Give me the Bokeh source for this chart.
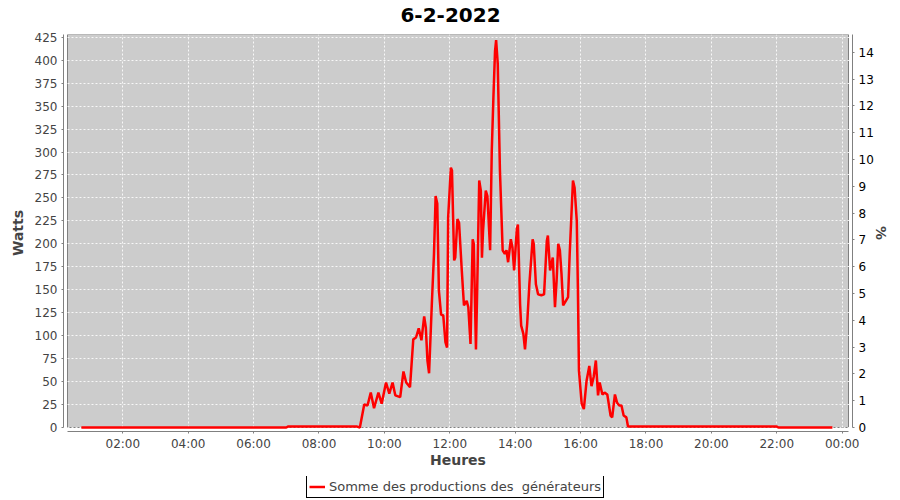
from bokeh.plotting import figure
from bokeh.layouts import column
from bokeh.models import (Range1d, LinearAxis, FixedTicker, BoxAnnotation,
                          Legend, LegendItem, Label)
from bokeh.embed import file_html
from bokeh.resources import INLINE

# ---------------- data ----------------
titre = "6-2-2022"
serie = "Somme des productions des  générateurs"

heures = ["00:44", "07:00", "07:03", "09:10", "09:15", "09:23", "09:29", "09:35",
          "09:41", "09:49", "09:55", "10:03", "10:09", "10:15", "10:20", "10:29",
          "10:35", "10:40", "10:47", "10:53", "10:58", "11:03", "11:08", "11:13",
          "11:16", "11:19", "11:22", "11:27", "11:31", "11:34", "11:37", "11:40",
          "11:44", "11:48", "11:52", "11:55", "11:57", "12:02", "12:04", "12:08",
          "12:10", "12:14", "12:17", "12:22", "12:26", "12:31", "12:34", "12:38",
          "12:42", "12:44", "12:48", "12:50", "12:54", "12:57", "12:59", "13:01",
          "13:06", "13:09", "13:14", "13:17", "13:20", "13:23", "13:25", "13:28",
          "13:32", "13:37", "13:41", "13:44", "13:47", "13:52", "13:55", "13:58",
          "14:03", "14:05", "14:09", "14:11", "14:15", "14:18", "14:22", "14:26",
          "14:32", "14:34", "14:38", "14:42", "14:48", "14:53", "14:58", "15:00",
          "15:04", "15:09", "15:13", "15:16", "15:19", "15:22", "15:25", "15:28",
          "15:33", "15:37", "15:40", "15:43", "15:46", "15:49", "15:53", "15:55",
          "15:57", "16:02", "16:06", "16:11", "16:16", "16:20", "16:24", "16:28",
          "16:32", "16:35", "16:40", "16:44", "16:49", "16:55", "16:58", "17:03",
          "17:07", "17:11", "17:15", "17:19", "17:24", "17:27", "22:00", "22:03",
          "23:42"]
watts = [0, 0, 1, 1, 0, 25, 24, 38,
         21, 38, 26, 49, 37, 49, 35, 33,
         61, 49, 44, 96, 98, 108, 95, 121,
         109, 73, 59, 134, 189, 252, 244, 149,
         123, 122, 93, 87, 229, 283, 280, 182,
         185, 227, 223, 171, 133, 138, 131, 91,
         205, 200, 85, 142, 269, 258, 185, 214,
         258, 252, 193, 301, 359, 410, 422, 396,
         280, 193, 189, 193, 180, 205, 196, 171,
         216, 221, 134, 111, 102, 85, 113, 156,
         205, 200, 156, 145, 144, 145, 203, 209,
         171, 185, 131, 160, 200, 193, 167, 133,
         138, 142, 189, 229, 269, 261, 225, 153,
         62, 26, 20, 51, 67, 45, 55, 73,
         35, 49, 36, 38, 36, 13, 11, 36,
         27, 24, 24, 13, 11, 1, 1, 0,
         0]

x_tick_labels = ["02:00", "04:00", "06:00", "08:00", "10:00", "12:00",
                 "14:00", "16:00", "18:00", "20:00", "22:00", "00:00"]
watts_ticks = list(range(0, 426, 25))
pct_ticks = list(range(0, 15))


def to_hours(s):
    h, m = s.split(":")
    return int(h) + int(m) / 60.0


x = [to_hours(s) for s in heures]
x_ticks = [2.0 * (i + 1) for i in range(len(x_tick_labels))]

# ---------------- ranges ----------------
X0, X1 = 0.309, 24.193      # plot-area extent, hours
W1 = 428.0                  # plot-area top, watts
P1 = 14.66                  # plot-area top, %
GAP = 4                     # px between plot area and axes
pad_x = GAP * (X1 - X0) / 781.0
pad_w = GAP * W1 / 393.0
pad_p = GAP * P1 / 393.0

FONT = "DejaVu Sans"
GREY_TXT = "#444444"
AXIS_COL = "#808080"
LEFT, RIGHT = 63, 48        # borders shared by the three stacked figures

# ---------------- title strip ----------------
TOP_H = 26
pt = figure(width=900, height=TOP_H, title=None, output_backend="svg",
            toolbar_location=None,
            x_range=Range1d(LEFT, 900 - RIGHT), y_range=Range1d(0, TOP_H),
            x_axis_location=None, y_axis_location=None,
            min_border_left=LEFT, min_border_right=RIGHT,
            min_border_top=0, min_border_bottom=0)
pt.xgrid.visible = False
pt.ygrid.visible = False
pt.outline_line_color = None
pt.add_layout(Label(x=450, y=12, text=titre, text_align="center",
                    text_baseline="alphabetic", text_font=FONT,
                    text_font_size="20px", text_font_style="bold",
                    text_color="black"))

# ---------------- main chart ----------------
p = figure(width=900, height=450, title=None, output_backend="svg",
           toolbar_location=None,
           x_range=Range1d(X0 - pad_x, X1 + pad_x),
           y_range=Range1d(-pad_w, W1),
           min_border_left=LEFT, min_border_right=RIGHT,
           min_border_top=8, min_border_bottom=45,
           background_fill_color="white", border_fill_color="white")
p.outline_line_color = None
p.extra_y_ranges = {"pct": Range1d(-pad_p, P1)}

area = BoxAnnotation(left=X0, right=X1, bottom=0, top=W1,
                     fill_color="#cccccc", fill_alpha=1.0,
                     line_color=AXIS_COL, line_alpha=1.0, line_width=1,
                     level="image")
p.add_layout(area)

p.xgrid.ticker = FixedTicker(ticks=x_ticks)
p.ygrid.ticker = FixedTicker(ticks=watts_ticks)
for g in (p.xgrid, p.ygrid):
    g.grid_line_color = "white"
    g.grid_line_alpha = 0.85
    g.grid_line_dash = "2 2"
    g.grid_line_width = 1

xa = p.xaxis[0]
xa.ticker = FixedTicker(ticks=x_ticks)
xa.major_label_overrides = {t: lab for t, lab in zip(x_ticks, x_tick_labels)}
xa.bounds = (X0, X1)
xa.axis_label = "Heures"

ya = p.yaxis[0]
ya.ticker = FixedTicker(ticks=watts_ticks)
ya.bounds = (0, W1)
ya.axis_label = "Watts"

ra = LinearAxis(y_range_name="pct", ticker=FixedTicker(ticks=pct_ticks),
                bounds=(0, P1), axis_label="%")
p.add_layout(ra, "right")

for ax in (xa, ya, ra):
    ax.axis_line_color = AXIS_COL
    ax.major_tick_line_color = AXIS_COL
    ax.major_tick_out = 2
    ax.major_tick_in = 0
    ax.minor_tick_out = 0
    ax.minor_tick_in = 0
    ax.major_label_text_font = FONT
    ax.major_label_text_font_size = "12px"
    ax.major_label_text_color = GREY_TXT
    ax.major_label_standoff = 4
    ax.axis_label_text_font = FONT
    ax.axis_label_text_font_size = "14px"
    ax.axis_label_text_font_style = "bold"
    ax.axis_label_text_color = GREY_TXT
ra.major_label_text_color = "black"
xa.major_label_standoff = 3
xa.axis_label_standoff = -2
ya.axis_label_standoff = 6
ra.axis_label_standoff = -4

line_style = dict(line_color="#ff0000", line_width=2.5)
r = p.line(x, watts, **line_style)

# ---------------- legend strip ----------------
pl = figure(width=900, height=24, title=None, output_backend="svg",
            toolbar_location=None,
            x_range=Range1d(-10, -9), y_range=Range1d(-10, -9),
            x_axis_location=None, y_axis_location=None,
            min_border_left=LEFT, min_border_right=RIGHT,
            min_border_top=0, min_border_bottom=0)
pl.xgrid.visible = False
pl.ygrid.visible = False
pl.outline_line_color = None
r_leg = pl.line(x=x[:1], y=watts[:1], **line_style)
legend = Legend(items=[LegendItem(label=serie, renderers=[r_leg])],
                location=(306 - LEFT, 2), orientation="horizontal",
                border_line_color="black", border_line_width=1, border_line_alpha=1,
                background_fill_color="white", background_fill_alpha=1,
                padding=2, spacing=0, margin=0,
                glyph_width=16, glyph_height=17, label_height=17,
                label_standoff=4,
                label_text_font=FONT, label_text_font_size="13px",
                label_text_color=GREY_TXT)
pl.add_layout(legend, "center")

layout = column(pt, p, pl, spacing=0)
open("out.html", "w").write(file_html(layout, INLINE))
